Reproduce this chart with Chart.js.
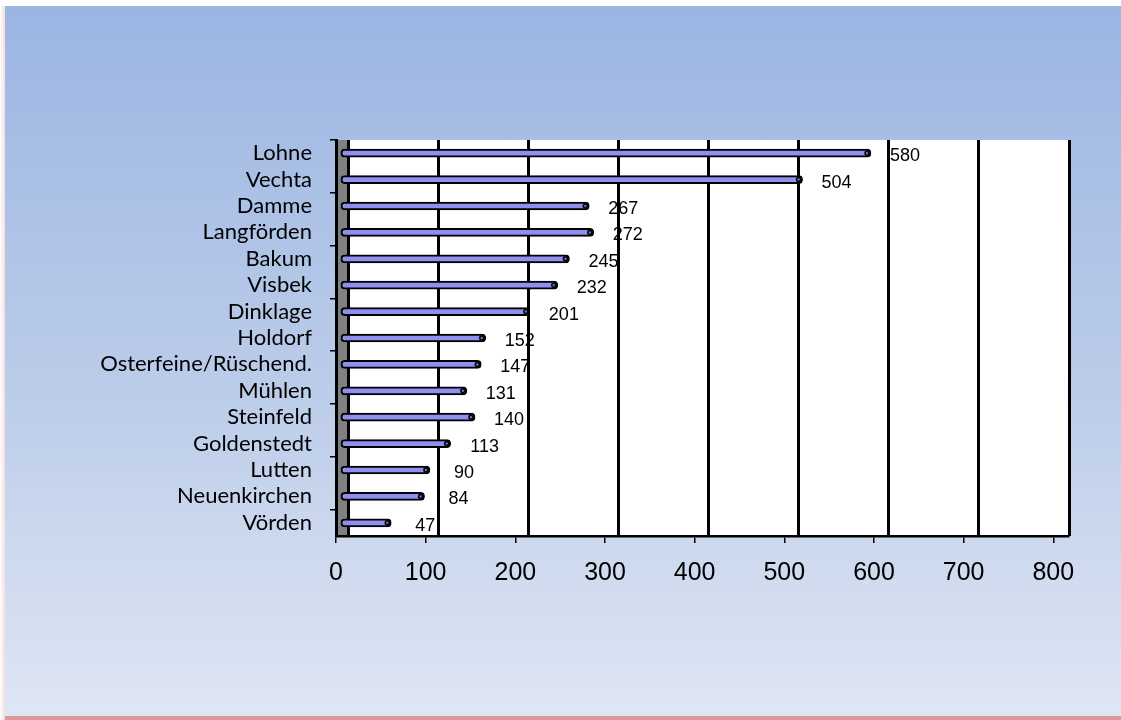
<!DOCTYPE html>
<html>
<head>
<meta charset="utf-8">
<script src="https://cdn.jsdelivr.net/npm/chart.js@4.4.0/dist/chart.umd.min.js"></script>
<style>
  html, body { margin: 0; padding: 0; }
  body { width: 1121px; height: 720px; background: #ffffff; position: relative; overflow: hidden; }
  #bg { position: absolute; left: 5px; top: 6px; width: 1116px; height: 710px;
        background: linear-gradient(to bottom, #9bb5e3 0%, #bccde9 55%, #dfe6f4 100%); }
  #edgeL { position: absolute; left: 0; top: 6px; width: 5px; height: 714px;
        background: linear-gradient(to right, #ffffff, #f6dcdc); }
  #edgeB { position: absolute; left: 5px; top: 716px; width: 1116px; height: 4px; background: #dc9898; }
  #wrap { position: absolute; left: 0; top: 0; width: 1121px; height: 720px; }
</style>
</head>
<body>
<div id="bg"></div>
<div id="edgeL"></div>
<div id="edgeB"></div>
<div id="wrap"><canvas id="c" width="1121" height="720"></canvas></div>
<script>
const categories = ["Lohne", "Vechta", "Damme", "Langförden", "Bakum", "Visbek", "Dinklage", "Holdorf",
  "Osterfeine/Rüschend.", "Mühlen", "Steinfeld", "Goldenstedt", "Lutten", "Neuenkirchen", "Vörden"];
const values = [580, 504, 267, 272, 245, 232, 201, 152, 147, 131, 140, 113, 90, 84, 47];
const tickValues = [0, 100, 200, 300, 400, 500, 600, 700, 800];

const wallPlugin = {
  id: 'wall',
  beforeDraw(chart) {
    const { ctx, chartArea: a, scales } = chart;
    const x0 = scales.x.getPixelForValue(0);
    ctx.save();
    ctx.fillStyle = '#ffffff';
    ctx.fillRect(x0, a.top, a.right - x0, a.bottom - a.top);
    ctx.fillStyle = '#808080';
    ctx.fillRect(a.left, a.top, x0 - a.left, a.bottom - a.top);
    ctx.restore();
  },
  afterDatasetsDraw(chart) {
    const { ctx } = chart;
    const meta = chart.getDatasetMeta(0);
    ctx.save();
    meta.data.forEach((bar, i) => {
      ctx.beginPath();
      ctx.arc(bar.x - 4, bar.y, 2, 0, Math.PI * 2);
      ctx.fillStyle = '#7070c0';
      ctx.fill();
      ctx.lineWidth = 1.5;
      ctx.strokeStyle = '#000';
      ctx.stroke();
      ctx.fillStyle = '#000';
      ctx.font = '18px "Liberation Sans", Arial, sans-serif';
      ctx.textAlign = 'center';
      ctx.textBaseline = 'middle';
      ctx.fillText(String(values[i]), bar.x + 34, bar.y + 3);
    });
    ctx.restore();
  }
};

new Chart(document.getElementById('c'), {
  type: 'bar',
  data: {
    labels: categories,
    datasets: [{
      data: values,
      base: -9,
      backgroundColor: '#8f8fef',
      borderColor: '#000000',
      borderWidth: 2,
      borderSkipped: false,
      borderRadius: 4,
      barThickness: 8,
      xAxisID: 'x',
      yAxisID: 'y'
    }]
  },
  options: {
    indexAxis: 'y',
    responsive: false,
    animation: false,
    devicePixelRatio: 1,
    layout: { padding: { top: 0, right: 52, bottom: 0, left: 0 } },
    plugins: { legend: { display: false }, tooltip: { enabled: false } },
    scales: {
      x: {
        type: 'linear',
        position: 'top',
        min: -14.4,
        max: 800,
        afterBuildTicks(scale) { scale.ticks = tickValues.map(v => ({ value: v })); },
        afterFit(scale) { scale.height = 140; },
        ticks: { display: false },
        grid: { color: '#000000', lineWidth: 3, drawTicks: false, drawOnChartArea: true },
        border: { display: false }
      },
      x2: {
        type: 'linear',
        position: 'bottom',
        min: 0,
        max: 817.5,
        afterBuildTicks(scale) { scale.ticks = tickValues.map(v => ({ value: v })); },
        afterFit(scale) { scale.height = 184; },
        ticks: { color: '#000000', font: { family: '"Liberation Sans", Arial, sans-serif', size: 25 }, padding: 15, maxRotation: 0, autoSkip: false },
        grid: { drawOnChartArea: false, color: '#000000', lineWidth: 1.5, tickLength: 7 },
        border: { display: true, color: '#000000', width: 2.5 }
      },
      y: {
        position: 'left',
        afterFit(scale) { scale.width = 336; },
        ticks: { color: '#000000', font: { family: 'Lato, "Noto Sans", sans-serif', size: 22 }, padding: 18, autoSkip: false },
        grid: {
          offset: true,
          drawOnChartArea: false,
          tickLength: 6,
          lineWidth: 1.5,
          color: (c) => (c.index % 2 === 0 ? '#000000' : 'rgba(0,0,0,0)')
        },
        border: { display: true, color: '#000000', width: 3 }
      }
    }
  },
  plugins: [wallPlugin]
});
</script>
</body>
</html>
